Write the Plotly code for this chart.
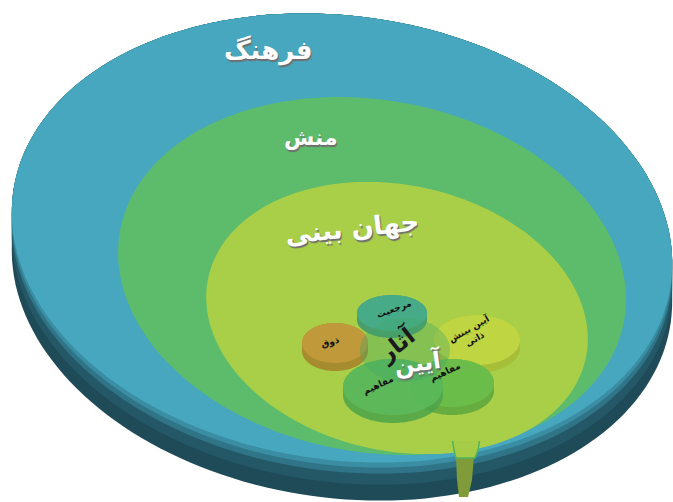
import numpy as np
import plotly.graph_objects as go

W, H = 673, 502

# Ring layers (outer -> inner): label, face colour
ring_labels = ["فرهنگ", "منش", "جهان بینی"]
ring_colors = ["#46A7BF", "#5DBC6C", "#A9CF48"]
ring_geom = [  # cx, cy, a, b, rotation(deg)
    (342, 238, 332, 222, 8),
    (372, 276, 256, 176, 10),
    (397, 318, 193, 133, 12),
]
ring_label_pos = [(268, 50, 0), (311, 137, 0), (352, 228, -6)]
ring_label_size = [26, 22, 26]

# Small discs: label, colour, side colour, geometry
disc_labels = ["ذوق", "مرجعیت", "آیین بینش<br>ذاتی", "مفاهیم", "مفاهیم"]
disc_colors = ["#C39B3C", "#48AE8C", "#C4D844", "#6CBF4C", "#5DBB5B"]
disc_side = ["#A6802C", "#3C9472", "#A7BC36", "#5AA63E", "#4DA34B"]
disc_geom = [
    (335, 343, 33, 20, 0, 8),
    (392, 313, 35, 18, 0, 7),
    (477, 340, 43, 25, 0, 8),
    (452, 383, 42, 24, 0, 8),
    (393, 387, 50, 28, 0, 8),
]
disc_label_pos = [(330, 342, -15), (394, 309, -20), (472, 333, -30), (445, 372, -25), (378, 385, -25)]
center_labels = ["آثار", "آیین"]


def ell(cx, cy, a, b, phi, dy=0.0, n=180):
    t = np.linspace(0, 2 * np.pi, n, endpoint=False)
    p = np.deg2rad(phi)
    x = cx + a * np.cos(t) * np.cos(p) - b * np.sin(t) * np.sin(p)
    y = cy + dy + a * np.cos(t) * np.sin(p) + b * np.sin(t) * np.cos(p)
    return np.column_stack([x, y])


def hull(pts):
    pts = sorted(map(tuple, pts))
    def cross(o, a, b):
        return (a[0] - o[0]) * (b[1] - o[1]) - (a[1] - o[1]) * (b[0] - o[0])
    lower, upper = [], []
    for p in pts:
        while len(lower) >= 2 and cross(lower[-2], lower[-1], p) <= 0:
            lower.pop()
        lower.append(p)
    for p in reversed(pts):
        while len(upper) >= 2 and cross(upper[-2], upper[-1], p) <= 0:
            upper.pop()
        upper.append(p)
    return np.array(lower[:-1] + upper[:-1])


def path(pts):
    return "M " + " L ".join(f"{x:.1f},{y:.1f}" for x, y in pts) + " Z"


shapes = []

def add(pts, color, opacity=1.0, line=None):
    shapes.append(dict(type="path", path=path(pts), fillcolor=color,
                       line=line or dict(width=0), opacity=opacity, layer="above"))

# outer disc rim
cx, cy, a, b, ph = ring_geom[0]
add(hull(np.vstack([ell(cx, cy, a, b, ph), ell(cx, cy, a, b, ph, 38)])), "#1F4B59")
add(hull(np.vstack([ell(cx, cy, a, b, ph), ell(cx, cy, a, b, ph, 22)])), "#245867")
add(hull(np.vstack([ell(cx, cy, a, b, ph), ell(cx, cy, a, b, ph, 11)])), "#2F7587")
add(hull(np.vstack([ell(cx, cy, a, b, ph), ell(cx, cy, a, b, ph, 5)])), "#3A8DA3")

# drip down the rim
drip_rim = np.array([[456, 456], [474, 456], [472, 480], [468, 497], [459, 497], [457, 480]])
add(drip_rim, "#7F9B3A")

# faces
for (g, c) in zip(ring_geom, ring_colors):
    add(ell(*g), c)

# drip on the face
drip_face = np.array([[452, 438], [480, 438], [478, 450], [475, 458], [456, 458], [454, 450]])
add(drip_face, "#A6CB46", line=dict(width=1.5, color="#4FB55E"))
add(np.array([[450, 430], [482, 430], [482, 441], [450, 441]]), "#A9CF48")

# small discs
for g, c, s in zip(disc_geom, disc_colors, disc_side):
    dcx, dcy, da, db, dph, th = g
    add(hull(np.vstack([ell(dcx, dcy, da, db, dph), ell(dcx, dcy, da, db, dph, th)])), s, 0.85)
    add(ell(dcx, dcy, da, db, dph), c, 0.85)

# centre translucent disc
add(ell(405, 350, 45, 32, 0), "#3FA668", 0.35)

fig = go.Figure()
fig.add_trace(go.Scatter(x=[0, W], y=[0, H], mode="markers", marker=dict(opacity=0),
                         hoverinfo="skip", showlegend=False))

ann = []
FONT = "DejaVu Sans"
SHADOW = "1px 2px 1px #6E6E6E"
for lab, (x, y, ang), sz in zip(ring_labels, ring_label_pos, ring_label_size):
    ann.append(dict(x=x, y=y, text=f"<b>{lab}</b>", showarrow=False, textangle=ang,
                    font=dict(family=FONT, size=sz, color="#FFFFFF", shadow=SHADOW)))

for lab, (x, y, ang) in zip(disc_labels, disc_label_pos):
    ann.append(dict(x=x, y=y, text=f"<b>{lab}</b>", showarrow=False, textangle=ang,
                    font=dict(family=FONT, size=9, color="#111111")))

ann.append(dict(x=396, y=344, text=f"<b>{center_labels[0]}</b>", showarrow=False, textangle=-38,
                font=dict(family=FONT, size=23, color="#1A1A1A")))
ann.append(dict(x=418, y=362, text=f"<b>{center_labels[1]}</b>", showarrow=False, textangle=-8,
                font=dict(family=FONT, size=23, color="#FFFFFF", shadow=SHADOW)))

fig.update_layout(
    width=W, height=H, margin=dict(l=0, r=0, t=0, b=0),
    paper_bgcolor="white", plot_bgcolor="white",
    xaxis=dict(range=[0, W], visible=False, fixedrange=True),
    yaxis=dict(range=[H, 0], visible=False, fixedrange=True),
    shapes=shapes, annotations=ann, showlegend=False,
)
fig.write_html("out.html")
